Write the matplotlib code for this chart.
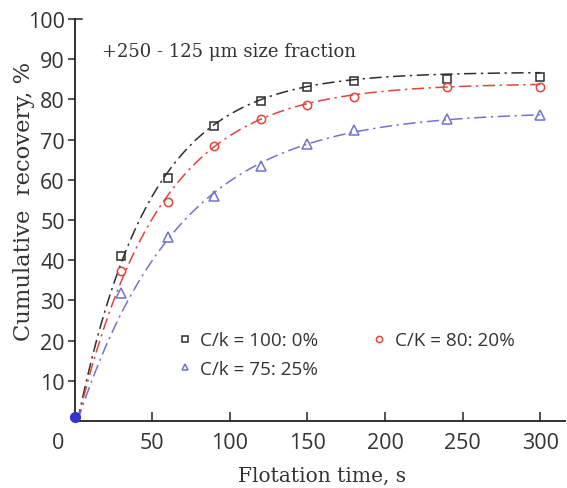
import numpy as np
import matplotlib
matplotlib.use("Agg")
import matplotlib.pyplot as plt
import matplotlib.transforms as mtrans

# ---- data ----
time_s = [30, 60, 90, 120, 150, 180, 240, 300]
rec_100_0 = [41.0, 60.5, 73.5, 79.5, 83.0, 84.5, 85.0, 85.5]
rec_80_20 = [37.3, 54.5, 68.5, 75.0, 78.6, 80.6, 83.0, 83.2]
rec_75_25 = [31.8, 45.8, 56.0, 63.5, 69.0, 72.5, 75.0, 76.2]
origin_t = [0]
origin_r = [1]

# first-order kinetic fits (R = Rmax * (1 - exp(-k (t - t0))))
fit_rmax = [86.8, 84.0, 77.0]
fit_k = [0.0215, 0.019, 0.0152]
fit_t0 = 2.0

labels = ["C/k = 100: 0%", "C/K = 80: 20%", "C/k = 75: 25%"]
colors = ["#2e2e2e", "#e2453d", "#7272d2"]
markers = ["s", "o", "^"]
series = [rec_100_0, rec_80_20, rec_75_25]

xticks = [0, 50, 100, 150, 200, 250, 300]
yticks = [10, 20, 30, 40, 50, 60, 70, 80, 90, 100]

fig = plt.figure(figsize=(5.67, 4.89), dpi=100)
ax = fig.add_axes([74.5 / 567, 1 - 422 / 489, (565 - 74.5) / 567, (422 - 20) / 489])

tfit = np.linspace(fit_t0, 300, 300)
handles = []
for ys, c, m, lab, rm, k in zip(series, colors, markers, labels, fit_rmax, fit_k):
    ax.plot(tfit, rm * (1 - np.exp(-k * (tfit - fit_t0))), color=c, lw=1.1,
            linestyle=(0, (8, 3, 1.5, 3)), zorder=2)
    h, = ax.plot(time_s, ys, linestyle="none", marker=m, markersize=6 if m != "^" else 6.5,
                 markerfacecolor="none", markeredgecolor=c, markeredgewidth=1.1,
                 label=lab, zorder=3)
    handles.append(h)

ax.plot(origin_t, origin_r, linestyle="none", marker="o", markersize=7,
        color="#3535c8", clip_on=False, zorder=4)

ax.set_xlim(0, 316)
ax.set_ylim(0, 100)

for s in ["top", "right"]:
    ax.spines[s].set_visible(False)
for s in ["left", "bottom"]:
    ax.spines[s].set_linewidth(1.3)
    ax.spines[s].set_color("#222222")

ax.set_xticks(xticks)
ax.set_xticklabels([str(v) for v in xticks])
ax.set_yticks(yticks)
ax.set_yticklabels([str(v) for v in yticks])

for lab in ax.get_xticklabels() + ax.get_yticklabels():
    lab.set_fontfamily("Open Sans")
    lab.set_fontsize(15.5)
    lab.set_color("#333333")

ax.tick_params(axis="x", direction="in", length=6.5, width=1.1, pad=8, color="#222222")
ax.tick_params(axis="y", direction="out", length=5, width=1.1, pad=2, color="#222222")
# hide the tick mark at 0 and nudge the 0 label left
ax.xaxis.get_major_ticks()[0].tick1line.set_visible(False)
ax.get_xticklabels()[0].set_transform(
    ax.get_xticklabels()[0].get_transform() + mtrans.ScaledTranslation(-16 / 100, 0, fig.dpi_scale_trans))
# small inward stub at the top of the y axis
ax.plot([0, 5], [100, 100], color="#222222", lw=1.1, clip_on=False)

ax.set_xlabel("Flotation time, s", family="DejaVu Serif", fontsize=14.5, color="#333333")
ax.set_ylabel("Cumulative  recovery, %", family="DejaVu Serif", fontsize=16.3, color="#333333")
ax.xaxis.set_label_coords((322 - 74.5) / (565 - 74.5), -(476 - 422) / (422 - 20))
ax.yaxis.set_label_coords(-(74.5 - 24) / (565 - 74.5), (422 - 201) / (422 - 20))
ax.xaxis.label.set_va("center")
ax.yaxis.label.set_va("center")

ax.text(0.057, 0.92, "+250 - 125 \u03bcm size fraction", transform=ax.transAxes,
        family="DejaVu Serif", fontsize=13, color="#333333", va="center", ha="left")

leg = ax.legend(handles=[handles[0], handles[2], handles[1]], ncol=2, loc="center left",
                bbox_to_anchor=((179 - 74.5) / (565 - 74.5), (422 - 355.5) / (422 - 20)),
                frameon=False, markerscale=0.75, borderpad=0, borderaxespad=0,
                handlelength=0.6, handletextpad=0.5, columnspacing=2.95,
                labelspacing=0.55, prop=dict(family="Open Sans", size=13.6))
for t in leg.get_texts():
    t.set_color("#333333")

fig.savefig("out.png", dpi=100)
